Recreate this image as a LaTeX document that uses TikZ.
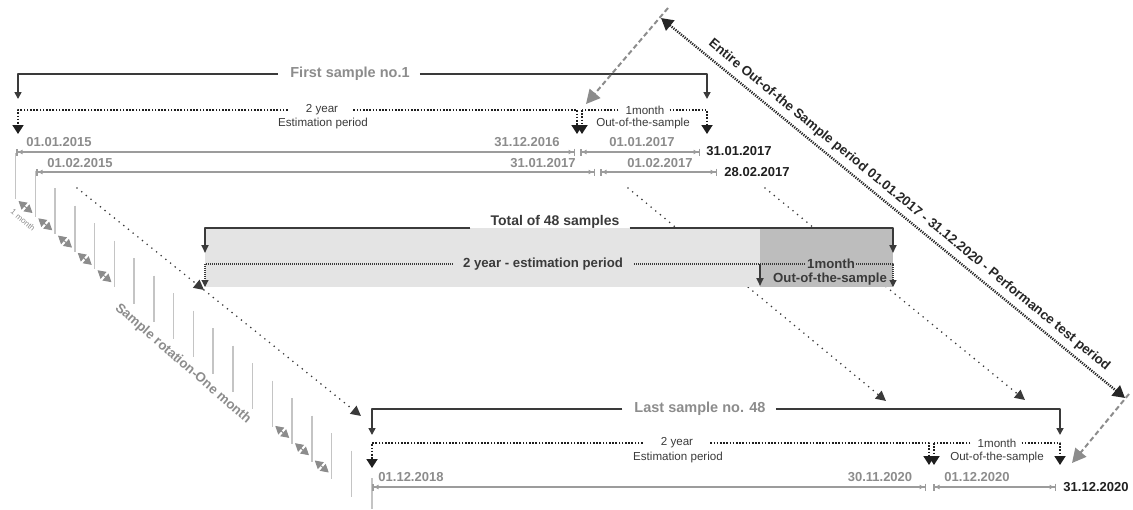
\documentclass[tikz,border=0pt]{standalone}
\usepackage{fontspec}
\setmainfont{Liberation Sans}
\usetikzlibrary{arrows.meta,calc}
\definecolor{dk}{HTML}{3A3A3A}
\definecolor{gr}{HTML}{8C8C8C}
\definecolor{ln}{HTML}{9C9C9C}
\definecolor{st}{HTML}{C4C4C4}
\definecolor{bxl}{HTML}{E4E4E4}
\definecolor{bxd}{HTML}{BDBDBD}
\tikzset{
  brk/.style={draw=dk, line width=1.6pt, -{Triangle[width=7pt,length=7pt]}},
  dotl/.style={draw=black!88, line width=1.8pt, dash pattern=on 1.6pt off 1.6pt},
  dota/.style={dotl, -{Triangle[width=11pt,length=9pt]}},
  rng/.style={draw=ln, line width=1.5pt, {Bar[width=7pt]Latex[length=5pt,width=5pt]}-{Latex[length=5pt,width=5pt]Bar[width=7pt]}},
  stair/.style={draw=st, line width=1.5pt},
  pair/.style={draw=gr, line width=1pt, {Triangle[width=9pt,length=8pt]}-{Triangle[width=9pt,length=8pt]}},
  diag/.style={draw=dk, line width=1.8pt, line cap=round, dash pattern=on 0pt off 6pt, -{Triangle[width=10pt,length=10pt]}},
  entire/.style={draw=black!85, line width=2.4pt, dash pattern=on 1.2pt off 1.2pt, {Triangle[width=13pt,length=12pt]}-{Triangle[width=13pt,length=12pt]}},
  gdash/.style={draw=gr, line width=2pt, dash pattern=on 5pt off 3pt, -{Triangle[width=14pt,length=14pt]}},
  bbrk/.style={draw=dk, line width=1.8pt, -{Triangle[width=7pt,length=8pt]}},
  bdot/.style={draw=dk, line width=1.1pt, dash pattern=on 1pt off 1pt},
  bdota/.style={bdot, -{Triangle[width=7pt,length=7pt]}},
  lbl/.style={inner sep=1pt, text=dk, font=\fontsize{11.6}{13}\selectfont},
  dat/.style={inner sep=1pt, text=gr, font=\bfseries\fontsize{13}{15}\selectfont},
  datk/.style={dat, text=black!88},
  ttl/.style={inner sep=1pt, text=gr, font=\bfseries\fontsize{14.5}{16}\selectfont},
  bxt/.style={inner sep=1pt, text=dk, font=\bfseries\fontsize{13.2}{15}\selectfont},
  etxt/.style={inner sep=1pt, text=black!85, font=\bfseries\fontsize{13.3}{15}\selectfont}
}
\begin{document}
\begin{tikzpicture}[x=1pt,y=-1pt,line join=round]
\useasboundingbox (0,0) rectangle (1133,509);
\foreach \i in {0,...,17}
  \draw[stair] (15.5+19.75*\i,153+17.5*\i) -- ++(0,46);
\draw[stair] (372,478) -- (372,509);
\foreach \i in {0,1,2,3,4,13,14,15}
  \draw[pair] (18.5+19.75*\i,201+17.3*\i) -- ++(14,12);
\node[lbl, text=gr, rotate=-40, font=\fontsize{8}{9}\selectfont] (onem) at (23,220) {1 month};
\node[ttl, rotate=-41, font=\bfseries\fontsize{13.3}{15}\selectfont] (rot) at (183,364) {Sample rotation-One month};
\coordinate (d1a) at (77,188);
\coordinate (d1b) at (204,290);
\coordinate (d1c) at (361,416);
\coordinate (d2a) at (628,188);
\coordinate (d2b) at (886,401);
\coordinate (d3a) at (765,188);
\coordinate (d3b) at (1025,400);
\draw[diag] (d1a) -- (d1b);
\draw[diag] (d1b) -- (d1c);
\draw[diag] (d2a) -- (d2b);
\draw[diag] (d3a) -- (d3b);
\coordinate (bxa) at (205,228);
\coordinate (bxb) at (893,287);
\coordinate (bxm) at (760,228);
\fill[bxl] (bxa) rectangle (bxb);
\fill[bxd] (bxm) rectangle (bxb);
\node[bxt, anchor=base, font=\bfseries\fontsize{14}{16}\selectfont] (tot) at (555,225) {Total of 48 samples};
\draw[bbrk] ($(tot.base west)+(-19,3)$) -| ($(bxa)+(0,25)$);
\draw[bbrk] ($(tot.base east)+(9,3)$) -| ($(bxb)+(0,-34)$);
\node[bxt] (e2) at (543,264) {2 year - estimation period};
\node[bxt] (m2) at (831,264) {1month};
\node[bxt] (o2) at (830,279) {Out-of-the-sample};
\draw[bdota] ($(e2.west)+(-9,0)$) -| (bxa |- bxb);
\draw[bdot] ($(e2.east)+(10,0)$) -- (m2.west);
\draw[bdota] (m2.east) -| (bxb);
\draw[bbrk] ($(bxm)+(0,36)$) -- ($(bxm)+(0,58)$);
\coordinate (s1l) at (18,99);
\coordinate (s1r) at (707,99);
\coordinate (e1l) at (18,134);
\coordinate (e1m) at (577,134);
\coordinate (e1n) at (582,134);
\coordinate (e1r) at (707,134);
\node[ttl] (s1) at (350,74) {First sample no.1};
\draw[brk] ($(s1.west)+(-11,0)$) -| (s1l);
\draw[brk] ($(s1.east)+(9,0)$) -| (s1r);
\node[lbl] (e1) at (322,110) {2 year};
\node[lbl] (e1b) at (323,123) {Estimation period};
\node[lbl] (m1) at (645,110) {1month};
\node[lbl] (o1) at (643,123) {Out-of-the-sample};
\draw[dota] ($(e1.west)+(-17,0)$) -| (e1l);
\draw[dota] ($(e1.east)+(14,0)$) -| (e1m);
\draw[dota] (e1n |- e1.center) -- (e1n);
\draw[dotl] ($(m1.west)+(-6,0)$) -- (e1n |- m1.center);
\draw[dota] ($(m1.east)+(4,0)$) -| (e1r);
\coordinate (r1a) at (16,152);
\coordinate (r1b) at (575,152);
\coordinate (r1c) at (580,152);
\coordinate (r1d) at (700,152);
\coordinate (r2a) at (36,172);
\coordinate (r2b) at (595,172);
\coordinate (r2c) at (600,172);
\coordinate (r2d) at (717,172);
\draw[rng] (r1a) -- (r1b);
\draw[rng] (r1c) -- (r1d);
\draw[rng] (r2a) -- (r2b);
\draw[rng] (r2c) -- (r2d);
\node[dat] (a1) at (59,142) {01.01.2015};
\node[dat] (a2) at (527,142) {31.12.2016};
\node[dat] (a3) at (642,142) {01.01.2017};
\node[datk] (a4) at (739,151) {31.01.2017};
\node[dat] (b1) at (80,163) {01.02.2015};
\node[dat] (b2) at (543,163) {31.01.2017};
\node[dat] (b3) at (660,163) {01.02.2017};
\node[datk] (b4) at (757,172) {28.02.2017};
\coordinate (s2l) at (372,435);
\coordinate (s2r) at (1060,435);
\coordinate (e3l) at (372,468);
\coordinate (e3m) at (929,465);
\coordinate (e3n) at (934,465);
\coordinate (e3r) at (1060,465);
\node[ttl] (s2) at (700,409) {Last sample no. 48};
\draw[brk] ($(s2.west)+(-11,0)$) -| (s2l);
\draw[brk] ($(s2.east)+(9,0)$) -| (s2r);
\node[lbl] (e3) at (677,443) {2 year};
\node[lbl] (e3b) at (678,457) {Estimation period};
\node[lbl] (m3) at (997,443) {1month};
\node[lbl] (o3) at (997,457) {Out-of-the-sample};
\draw[dota] ($(e3.west)+(-17,0)$) -| (e3l);
\draw[dota] ($(e3.east)+(16,0)$) -| (e3m);
\draw[dota] (e3n |- e3.center) -- (e3n);
\draw[dotl] ($(m3.west)+(-6,0)$) -- (e3n |- m3.center);
\draw[dota] ($(m3.east)+(4,0)$) -| (e3r);
\coordinate (r3a) at (372,487);
\coordinate (r3b) at (926,487);
\coordinate (r3c) at (933,487);
\coordinate (r3d) at (1056,487);
\draw[rng] (r3a) -- (r3b);
\draw[rng] (r3c) -- (r3d);
\node[dat] (c1) at (411,477) {01.12.2018};
\node[dat] (c2) at (880,477) {30.11.2020};
\node[dat] (c3) at (977,477) {01.12.2020};
\node[datk] (c4) at (1096,487) {31.12.2020};
\coordinate (ea) at (661,18);
\coordinate (eb) at (1125,398);
\draw[entire] (ea) -- (eb) node[pos=0.518, sloped, above=4pt, etxt] (ent) {Entire Out-of-the Sample period 01.01.2017 - 31.12.2020 - Performance test period};
\coordinate (ga) at (668,8);
\coordinate (gb) at (586,104);
\coordinate (gc) at (1129,394);
\coordinate (gd) at (1072,463);
\draw[gdash] (ga) -- (gb);
\draw[gdash] (gc) -- (gd);
\end{tikzpicture}
\end{document}
